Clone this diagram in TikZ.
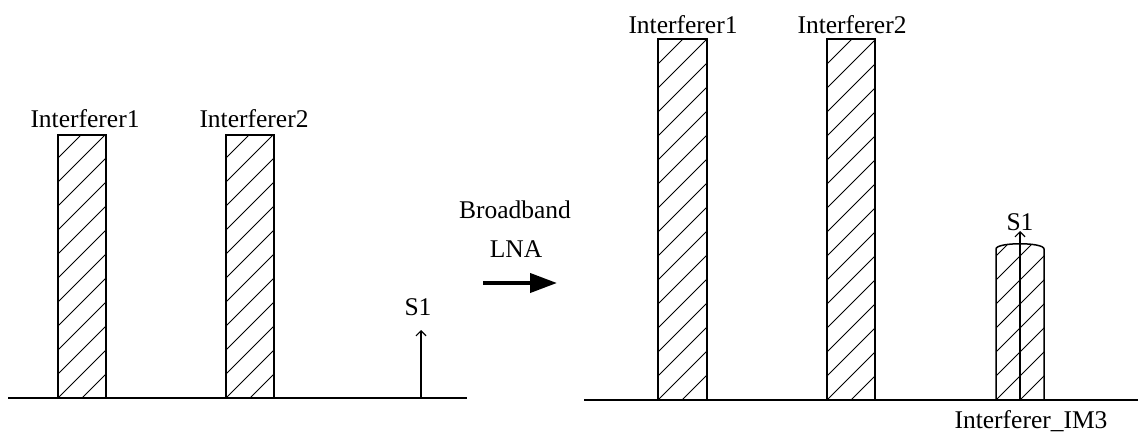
\documentclass[tikz,border=0pt]{standalone}
\usepackage{fontspec}
\setmainfont{Liberation Serif}
\usetikzlibrary{arrows.meta}
\newcommand{\hatchbar}[5]{% name, x1, x2, ytop, ybot
  \begin{scope}
    \clip (#2,#4) rectangle (#3,#5);
    \foreach \k in {-3,...,16} {
      \draw[hatch] (#2,#5-\k*24) -- ++(80,-80);
    }
  \end{scope}
  \draw[barline] (#2,#5) rectangle (#3,#4);
  \coordinate (#1) at ({(#2+#3)/2},#4);
}
\begin{document}
\begin{tikzpicture}[x=1pt,y=-1pt,
  hatch/.style={line width=1pt},
  barline/.style={line width=1.5pt},
  axis/.style={line width=2pt},
  lbl/.style={font=\fontsize{25.5}{28}\selectfont, inner sep=0pt, anchor=base},
  sig/.style={line width=1.2pt, -{Straight Barb[length=5pt,width=10pt,line width=1.2pt]}},
  big/.style={line width=4pt, -{Triangle[length=27pt,width=19pt]}}]
\useasboundingbox (0,0) rectangle (1138,434);

% left panel
\coordinate (la) at (8,398);
\coordinate (lb) at (467,398);
\hatchbar{b1}{58}{106}{135}{398}
\hatchbar{b2}{226}{274}{135}{398}
\draw[axis] (la) -- (lb);
\node[lbl] (t1) at (85,127) {Interferer1};
\node[lbl] (t2) at (254,127) {Interferer2};
\coordinate (s1b) at (421,398);
\node[lbl] (s1) at (418,315) {S1};
\draw[sig] (s1b) -- (421,330) coordinate (s1t);

% arrow
\node[lbl] (bb) at (515,218) {Broadband};
\node[lbl] (lna) at (516,257) {LNA};
\coordinate (aa) at (483,283);
\coordinate (ab) at (557,283);
\draw[big] (aa) -- (ab);

% right panel
\coordinate (ra) at (584,400);
\coordinate (rb) at (1138,400);
\hatchbar{c1}{658}{707}{39}{400}
\hatchbar{c2}{827}{875}{39}{400}
\node[lbl] (u1) at (683,33) {Interferer1};
\node[lbl] (u2) at (852,33) {Interferer2};

% IM3 bar with rounded top
\begin{scope}
  \clip (996,400) -- (996,249) .. controls (996,242) and (1044,242) .. (1044,249) -- (1044,400) -- cycle;
  \foreach \k in {-3,...,10} {
    \draw[hatch] (996,400-\k*24) -- ++(80,-80);
  }
\end{scope}
\draw[barline] (996,400) -- (996,249) .. controls (996,242) and (1044,242) .. (1044,249) -- (1044,400);
\draw[axis] (ra) -- (rb);
\coordinate (s2b) at (1020,400);
\node[lbl] (s2) at (1020,230) {S1};
\draw[sig] (s2b) -- (1020,231) coordinate (s2t);
\node[lbl] (im3) at (1031,428) {Interferer\_IM3};
\end{tikzpicture}
\end{document}
